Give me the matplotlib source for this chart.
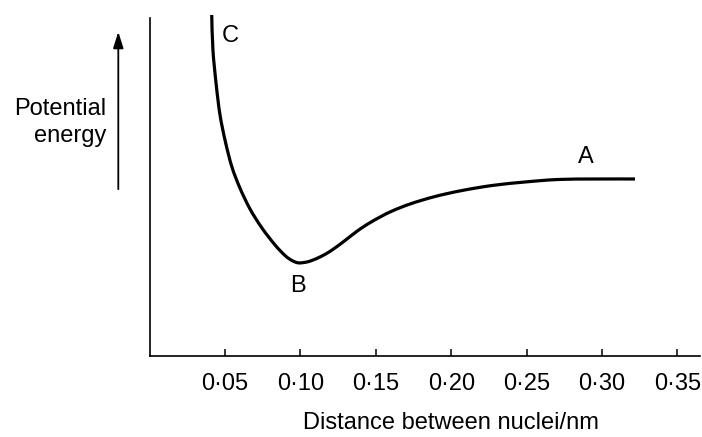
import matplotlib.pyplot as plt
from matplotlib.path import Path
from matplotlib.patches import PathPatch, FancyArrowPatch

# potential energy curve (distance in nm, energy in arbitrary units)
distance = [0.0412, 0.0420, 0.0442, 0.0467, 0.0503, 0.0546, 0.0599, 0.0666, 0.0745,
            0.0832, 0.0898, 0.0944, 0.0984, 0.1024, 0.1070, 0.1143, 0.1210, 0.1296,
            0.1382, 0.1475, 0.1594, 0.1727, 0.1893, 0.2072, 0.2271, 0.2489, 0.2708,
            0.2954, 0.3219]
energy = [341, 306, 271, 241, 214, 189, 168, 147, 128,
          111, 100.5, 95.5, 93.2, 93.5, 95.2, 100, 106, 115.5,
          125.5, 134.5, 144, 152, 159.5, 165.5, 170.5, 174, 176.5,
          177, 177]

tick_pos = [0.05, 0.10, 0.15, 0.20, 0.25, 0.30, 0.35]
tick_labels = ["0\u00b705", "0\u00b710", "0\u00b715", "0\u00b720", "0\u00b725", "0\u00b730", "0\u00b735"]

plt.rcParams['font.family'] = ['Liberation Sans', 'DejaVu Sans']

fig = plt.figure(figsize=(7.02, 4.37), dpi=100)
ax = fig.add_axes([149.6 / 702, 81 / 437, 550.4 / 702, 345 / 437])

# smooth curve through the read points (Catmull-Rom as cubic Bezier segments)
pts = list(zip(distance, energy))
verts = [pts[0]]
codes = [Path.MOVETO]
n = len(pts)
for i in range(n - 1):
    p0 = pts[max(i - 1, 0)]
    p1 = pts[i]
    p2 = pts[i + 1]
    p3 = pts[min(i + 2, n - 1)]
    c1 = (p1[0] + (p2[0] - p0[0]) / 6, p1[1] + (p2[1] - p0[1]) / 6)
    c2 = (p2[0] - (p3[0] - p1[0]) / 6, p2[1] - (p3[1] - p1[1]) / 6)
    verts += [c1, c2, p2]
    codes += [Path.CURVE4] * 3
ax.add_patch(PathPatch(Path(verts, codes), fill=False, edgecolor='black', lw=2.3,
                       capstyle='butt', clip_on=False))

ax.set_xlim(0, 0.365)
ax.set_ylim(0, 345)

for s in ['top', 'right']:
    ax.spines[s].set_visible(False)
ax.spines['left'].set_bounds(0, 338)
ax.spines['left'].set_linewidth(1.2)
ax.spines['bottom'].set_linewidth(1.2)

ax.set_xticks(tick_pos)
ax.set_xticklabels(tick_labels, fontsize=17)
ax.tick_params(axis='x', direction='in', length=5, width=1.1, pad=12)
ax.set_yticks([])

# point labels
ax.text(0.0538, 314, "C", fontsize=17, ha='center', va='baseline')
ax.text(0.0986, 64.5, "B", fontsize=17, ha='center', va='baseline')
ax.text(0.2894, 193, "A", fontsize=17, ha='center', va='baseline')

# y label with arrow
fig.text(106 / 702, 1 - 115 / 437, "Potential", fontsize=17, ha='right', va='baseline')
fig.text(106 / 702, 1 - 142 / 437, "energy", fontsize=17, ha='right', va='baseline')
fig.patches.append(FancyArrowPatch(
    (118.3 / 702, 1 - 192 / 437), (118.3 / 702, 1 - 29 / 437),
    transform=fig.transFigure, arrowstyle='-|>,head_length=0.7,head_width=0.22',
    mutation_scale=14, lw=1.3, color='black'))

fig.text(451 / 702, 1 - 429 / 437, "Distance between nuclei/nm", fontsize=17,
         ha='center', va='baseline')

fig.savefig('out.png', dpi=100)
